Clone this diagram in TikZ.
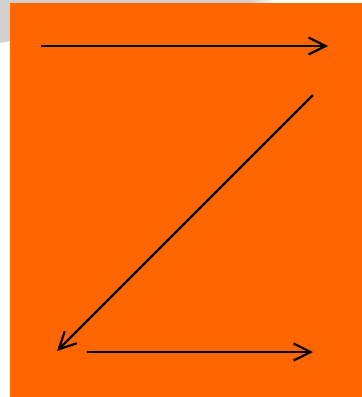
\documentclass[tikz,border=0pt]{standalone}
\usetikzlibrary{arrows.meta}
\definecolor{ZOrange}{RGB}{255,102,0}
\definecolor{SoftGray}{RGB}{208,208,208}
\tikzset{
  zarrow/.style={-{Straight Barb[length=17pt,width=17pt,line width=2.2pt]},line width=2.2pt,black}
}
\begin{document}
\begin{tikzpicture}[x=1pt,y=-1pt]
  \useasboundingbox (0,0) rectangle (362,397);
  % grey shadow behind the panel
  \fill[SoftGray] (0,0) -- (250,0) -- (250,3) -- (10,3) -- (10,41) -- (0,43) -- cycle;
  \shade[left color=SoftGray,right color=white] (250,0) rectangle (275,3);
  % panel
  \fill[ZOrange] (10,3) rectangle (362,397);
  \coordinate (topL) at (41,46);
  \coordinate (topR) at (328,46);
  \coordinate (midR) at (313,95);
  \coordinate (botL) at (57,351);
  \coordinate (botS) at (87,352);
  \coordinate (botR) at (313,352);
  \draw[zarrow] (topL) -- (topR);
  \draw[zarrow] (midR) -- (botL);
  \draw[zarrow] (botS) -- (botR);
\end{tikzpicture}
\end{document}
